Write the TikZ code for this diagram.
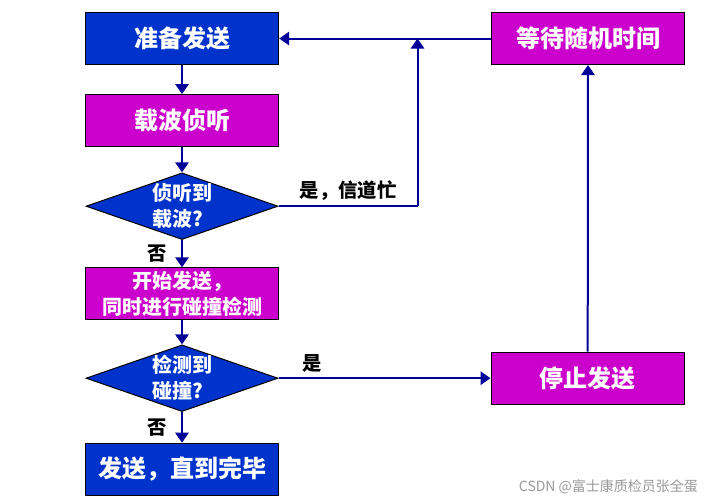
\documentclass[tikz,border=0pt]{standalone}
\usepackage{fontspec}
\newfontfamily\cjk{Noto Sans CJK SC}
\usetikzlibrary{arrows.meta, positioning, shapes.geometric}
\definecolor{sendblue}{HTML}{0033CC}
\definecolor{stepmag}{HTML}{CC00CC}
\definecolor{flowline}{HTML}{000099}
\tikzset{
>={Triangle[width=10pt,length=7.5pt]}, % filled arrow heads
box/.style={draw=black, line width=0.75pt, minimum width=145pt, minimum height=39pt,
  inner sep=0pt, text=white, font=\cjk\bfseries\fontsize{18}{20}\selectfont},
decision/.style={diamond, draw=black, line width=0.75pt, fill=sendblue, aspect=2.88,
  minimum width=144pt, minimum height=50pt, inner sep=0pt, text=white, align=left,
  font=\cjk\bfseries\fontsize{15}{19.5}\selectfont},
flow/.style={draw=flowline, line width=1.5pt},
tag/.style={text=black, font=\cjk\bfseries\fontsize{14.5}{17}\selectfont},
}
\begin{document}
\begin{tikzpicture}[node distance=21.75pt]
  \useasboundingbox (0,0) rectangle (537pt,-377.25pt);
  % left column
  \node[box, fill=sendblue] (ready) at (136.5pt,-28.9pt) {准备发送};
  \node[box, fill=stepmag, below=of ready] (sense) {载波侦听};
  \node[decision, below=19pt of sense] (busyq) {侦听到\\载波?};
  \node[box, fill=stepmag, below=20.5pt of busyq, align=center,
    font=\cjk\bfseries\fontsize{15}{19}\selectfont] (start) {开始发送，\\同时进行碰撞检测};
  \node[decision, below=18pt of start] (collq) {检测到\\碰撞?};
  \node[box, fill=sendblue, below=23pt of collq] (done) {发送，直到完毕};
  % right column
  \node[box, fill=stepmag, right=158.75pt of ready] (wait) {等待随机时间};
  \node[box, fill=stepmag, right=159pt of collq] (stop) {停止发送};
  \coordinate[right=104.25pt of busyq.east] (join);

  \draw[flow, ->] (ready) -- (sense);
  \draw[flow, ->] (sense) -- (busyq);
  \draw[flow, ->] (busyq) -- node[tag, left=7pt] (no1) {否} (start);
  \draw[flow, ->] (start) -- (collq);
  \draw[flow, ->] (collq) -- node[tag, left=7pt] (no2) {否} (done);
  \draw[flow, ->] (collq) -- node[tag, above, pos=0.16] (yes2) {是} (stop);
  \draw[flow, ->] (stop) -- (wait);
  \draw[flow, ->] (wait) -- (ready);
  \draw[flow] (busyq.east) -- node[tag, above] (yes1) {是，信道忙} (join);
  \draw[flow, ->] (join) -- (join |- wait.west);

  \node[anchor=east, text=gray!80, font=\cjk\fontsize{10.5}{12}\selectfont] (mark)
    at (527pt,-365pt) {CSDN @富士康质检员张全蛋};
\end{tikzpicture}
\end{document}
